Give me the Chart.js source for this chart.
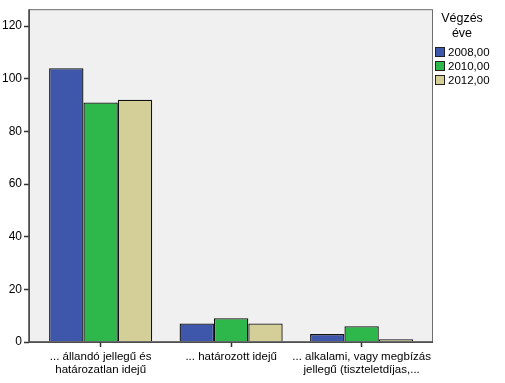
<!DOCTYPE html>
<html><head><meta charset="utf-8">
<script src="https://cdn.jsdelivr.net/npm/chart.js@4/dist/chart.umd.min.js"></script>
<style>
html,body{margin:0;padding:0;background:#fff;}
#wrap{position:relative;width:505px;height:383px;font-family:"Liberation Sans",Arial,sans-serif;}
canvas{position:absolute;left:0;top:0;}
#legend{position:absolute;left:434px;top:11px;width:71px;font-size:11.5px;color:#000;}
#legend .title{text-align:center;font-size:12.5px;line-height:15px;margin-bottom:4px;width:56px;}
#legend .item{height:14px;line-height:14px;white-space:nowrap;}
#legend .box{display:inline-block;width:10px;height:10px;border:1px solid #222;vertical-align:-1px;margin-right:3px;margin-left:1px;box-sizing:border-box;}
</style></head>
<body><div id="wrap"><canvas id="c" width="505" height="383"></canvas><div id="legend"></div></div>
<script>
const categories = [["... állandó jellegű és","határozatlan idejű"], "... határozott idejű", ["... alkalami, vagy megbízás","jellegű (tiszteletdíjas,..."]];
const seriesNames = ["2008,00","2010,00","2012,00"];
const values2008 = [104, 7, 3];
const values2010 = [91, 9, 6];
const values2012 = [92, 7, 1];
const yTicks = [0,20,40,60,80,100,120];
const legendTitle = ["Végzés","éve"];
const colors = ["#3f57ab","#2eb84b","#d4cf99"];

const allValues = [values2008, values2010, values2012];
const datasets = allValues.map((vals,k)=>({
  label: seriesNames[k],
  data: vals.map((v,i)=>({x:i,y:v})),
  backgroundColor: colors[k],
  borderColor: "#111",
  borderWidth: 1.3,
  categoryPercentage: 0.79,
  barPercentage: 1.0
}));

const framePlugin = {
  id:'frame',
  beforeDraw(chart){
    const {ctx, chartArea:a} = chart;
    ctx.save();
    ctx.fillStyle = "#f0f0f0";
    ctx.fillRect(a.left, a.top, a.right-a.left, a.bottom-a.top);
    ctx.strokeStyle = "#6e6e6e";
    ctx.lineWidth = 1;
    ctx.strokeRect(a.left+0.5, a.top+0.5, a.right-a.left-1, a.bottom-a.top);
    ctx.restore();
  },
  afterDraw(chart){
    const {ctx, chartArea:a} = chart;
    ctx.save();
    ctx.strokeStyle = "#444";
    ctx.lineWidth = 1.5;
    ctx.beginPath();
    ctx.moveTo(a.left, a.top); ctx.lineTo(a.left, a.bottom); ctx.lineTo(a.right, a.bottom);
    ctx.stroke();
    ctx.restore();
  }
};

Chart.defaults.font.family = '"Liberation Sans", Arial, sans-serif';
Chart.defaults.font.size = 11;
Chart.defaults.color = "#000";

new Chart(document.getElementById('c'), {
  type:'bar',
  data:{datasets},
  options:{
    responsive:false,
    animation:false,
    layout:{padding:{left:0,top:5,right:72,bottom:0}},
    plugins:{legend:{display:false},tooltip:{enabled:false}},
    scales:{
      x:{
        type:'linear',
        min:-0.549, max:2.547,
        offset:false,
        afterBuildTicks(s){ s.ticks = categories.map((c,i)=>({value:i})); },
        afterFit(s){ s.height = 41; },
        ticks:{
          callback:(v)=>categories[v],
          maxRotation:0, autoSkip:false, padding:3,
          font:{size:11.5, lineHeight:1.15}
        },
        grid:{drawOnChartArea:false, offset:false, tickLength:5, tickWidth:1.5, color:"#333", tickColor:"#333"},
        border:{display:false}
      },
      y:{
        min:0, max:126.4,
        afterBuildTicks(s){ s.ticks = yTicks.map(v=>({value:v})); },
        afterFit(s){ s.width = 29; },
        ticks:{padding:2, font:{size:12}},
        grid:{drawOnChartArea:false, tickLength:5, tickWidth:1.5, color:"#333", tickColor:"#333"},
        border:{display:false}
      }
    }
  },
  plugins:[framePlugin]
});

const lg = document.getElementById('legend');
lg.innerHTML = '<div class="title">'+legendTitle.join('<br>')+'</div>' +
  seriesNames.map((n,k)=>'<div class="item"><span class="box" style="background:'+colors[k]+'"></span>'+n+'</div>').join('');
</script></body></html>
